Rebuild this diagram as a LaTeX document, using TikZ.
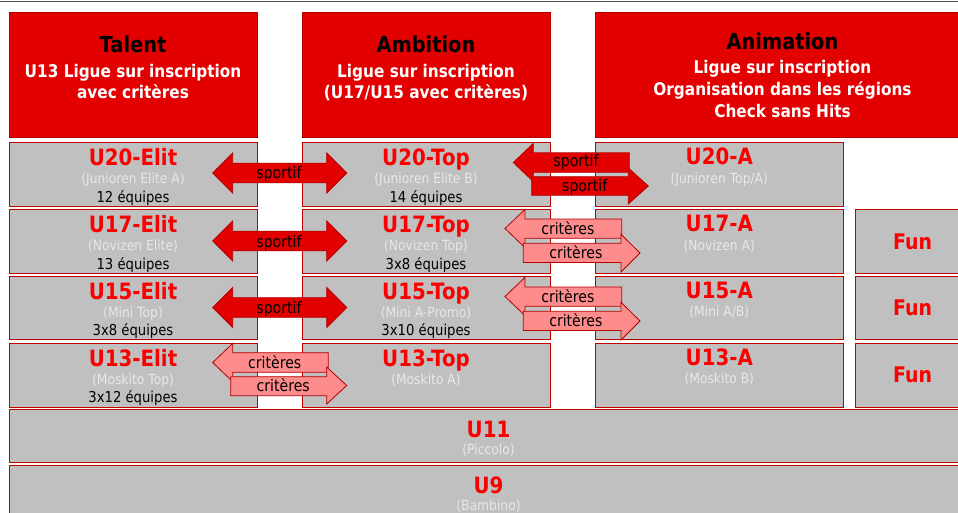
\documentclass[tikz,border=0pt]{standalone}
\usepackage{fontspec}
\setmainfont{DejaVu Sans}[FakeStretch=0.88]
\definecolor{hdrred}{RGB}{226,0,0}
\definecolor{hdrborder}{RGB}{176,0,0}
\definecolor{boxgray}{RGB}{192,192,192}
\definecolor{boxborder}{RGB}{190,0,0}
\definecolor{titlered}{RGB}{250,0,0}
\definecolor{subgray}{RGB}{232,232,232}
\definecolor{arrowred}{RGB}{226,0,0}
\definecolor{arrowpink}{RGB}{255,140,140}
\definecolor{arrowborder}{RGB}{180,0,0}
\definecolor{topline}{RGB}{80,80,80}
\tikzset{
  box/.style={draw=boxborder, fill=boxgray, line width=1pt},
  hdr/.style={draw=hdrborder, fill=hdrred, line width=0.8pt},
  ttl/.style={font=\bfseries\fontsize{22.5}{26}\selectfont, text=titlered, anchor=base, inner sep=0pt},
  funttl/.style={font=\bfseries\fontsize{21.5}{26}\selectfont, text=titlered, anchor=base, inner sep=0pt},
  subt/.style={font=\fontsize{14}{16}\selectfont, text=subgray, anchor=base, inner sep=0pt},
  cnt/.style={font=\fontsize{15}{18}\selectfont, text=black, anchor=base, inner sep=0pt},
  htitle/.style={font=\bfseries\fontsize{22}{26}\selectfont, text=black, anchor=base, inner sep=0pt},
  hline/.style={font=\bfseries\fontsize{17.4}{21}\selectfont, text=white, anchor=base, inner sep=0pt},
  lab/.style={font=\fontsize{16}{18}\selectfont, text=black, anchor=base, inner sep=0pt},
  redarrow/.style={fill=arrowred, draw=arrowborder, line width=0.8pt, line join=miter},
  pinkarrow/.style={fill=arrowpink, draw=arrowborder, line width=0.8pt, line join=miter}
}
\begin{document}
\begin{tikzpicture}[x=1pt,y=-1pt]
\useasboundingbox (0,0) rectangle (958,513);
\fill[white] (0,0) rectangle (958,513);
\draw[topline, line width=1pt] (0,1.5) -- (958,1.5);

% header boxes
\path[hdr] (9,12) rectangle (257,137);
\path[hdr] (302,12) rectangle (550,137);
\path[hdr] (595,12) rectangle (970,137);
\node[htitle] (tTalent) at (133,52.7) {Talent};
\node[hline] (tTal1) at (133,77.3) {U13 Ligue sur inscription};
\node[hline] (tTal2) at (133,98.3) {avec critères};
\node[htitle] (tAmb) at (426,52.7) {Ambition};
\node[hline] (tAmb1) at (426,77.3) {Ligue sur inscription};
\node[hline] (tAmb2) at (426,98.3) {(U17/U15 avec critères)};
\node[htitle] (tAni) at (782.5,50) {Animation};
\node[hline] (tAni1) at (782.5,74) {Ligue sur inscription};
\node[hline] (tAni2) at (782.5,95.8) {Organisation dans les régions};
\node[hline] (tAni3) at (782.5,117.3) {Check sans Hits};

% column boxes
\foreach \t/\b in {143/207, 210/273, 276/339.5, 343/407}{
  \path[box] (9,\t) rectangle (257,\b);
  \path[box] (302,\t) rectangle (550,\b);
  \path[box] (595,\t) rectangle (843.5,\b);
}
\foreach \t/\b in {210/273, 276/339.5, 343/407}{
  \path[box] (855,\t) rectangle (970,\b);
}
\path[box] (9,409) rectangle (968,462);
\path[box] (9,465) rectangle (968,530);

% column 1
\node[ttl] (e20) at (133,166) {U20-Elit};
\node[subt] (e20s) at (133,184) {(Junioren Elite A)};
\node[cnt] (e20c) at (133,202.7) {12 équipes};
\node[ttl] (e17) at (133,232.7) {U17-Elit};
\node[subt] (e17s) at (133,251) {(Novizen Elite)};
\node[cnt] (e17c) at (133,269.3) {13 équipes};
\node[ttl] (e15) at (133,299.2) {U15-Elit};
\node[subt] (e15s) at (133,317.5) {(Mini Top)};
\node[cnt] (e15c) at (133,335.8) {3x8 équipes};
\node[ttl] (e13) at (133,366) {U13-Elit};
\node[subt] (e13s) at (133,384.3) {(Moskito Top)};
\node[cnt] (e13c) at (133,402.6) {3x12 équipes};

% column 2
\node[ttl] (t20) at (426,166) {U20-Top};
\node[subt] (t20s) at (426,184) {(Junioren Elite B)};
\node[cnt] (t20c) at (426,202.7) {14 équipes};
\node[ttl] (t17) at (426,232.7) {U17-Top};
\node[subt] (t17s) at (426,251) {(Novizen Top)};
\node[cnt] (t17c) at (426,269.3) {3x8 équipes};
\node[ttl] (t15) at (426,299.2) {U15-Top};
\node[subt] (t15s) at (426,317.5) {(Mini A-Promo)};
\node[cnt] (t15c) at (426,335.8) {3x10 équipes};
\node[ttl] (t13) at (426,366) {U13-Top};
\node[subt] (t13s) at (426,384.3) {(Moskito A)};

% column 3
\node[ttl] (a20) at (719.3,165) {U20-A};
\node[subt] (a20s) at (719.3,183.3) {(Junioren Top/A)};
\node[ttl] (a17) at (719.3,232) {U17-A};
\node[subt] (a17s) at (719.3,250.3) {(Novizen A)};
\node[ttl] (a15) at (719.3,298.5) {U15-A};
\node[subt] (a15s) at (719.3,316.8) {(Mini A/B)};
\node[ttl] (a13) at (719.3,365.3) {U13-A};
\node[subt] (a13s) at (719.3,383.6) {(Moskito B)};

% fun
\node[funttl] (f17) at (912.5,249.3) {Fun};
\node[funttl] (f15) at (912.5,315.8) {Fun};
\node[funttl] (f13) at (912.5,382.6) {Fun};

% bottom rows
\node[ttl] (u11) at (488.5,437.3) {U11};
\node[subt] (u11s) at (488.5,454.5) {(Piccolo)};
\node[ttl] (u9) at (488.5,493.3) {U9};
\node[subt] (u9s) at (488.5,510.5) {(Bambino)};

% double red arrows col1-col2
\foreach \c/\n in {173/da1, 241/da2, 307.5/da3}{
  \path[redarrow] (212.7,\c) -- (232.7,\c-20) -- (232.7,\c-9.8) -- (326.7,\c-9.8) -- (326.7,\c-20)
    -- (346.7,\c) -- (326.7,\c+20) -- (326.7,\c+9.8) -- (232.7,\c+9.8) -- (232.7,\c+20) -- cycle;
  \node[lab] (\n) at (279,\c+6) {sportif};
}

% row1 col2-col3 red single arrows
\path[redarrow] (513.3,162.5) -- (533.3,143.5) -- (533.3,152.8) -- (629.3,152.8) -- (629.3,172.3)
  -- (533.3,172.3) -- (533.3,181.5) -- cycle;
\path[redarrow] (531.7,176.7) -- (628.3,176.7) -- (628.3,168) -- (648.3,186) -- (628.3,204)
  -- (628.3,195.3) -- (531.7,195.3) -- cycle;
\node[lab] (sa1) at (576,166.8) {sportif};
\node[lab] (sa2) at (584.7,191.7) {sportif};

% pink arrows col2-col3 rows 2 and 3
\foreach \d/\m in {0/1, 68/2}{
  \path[pinkarrow] (505,228.5+\d) -- (525,209.3+\d) -- (525,219+\d) -- (621.7,219+\d) -- (621.7,238.3+\d)
    -- (525,238.3+\d) -- (525,247.7+\d) -- cycle;
  \path[pinkarrow] (523.3,243.3+\d) -- (621,243.3+\d) -- (621,234.3+\d) -- (640,253+\d) -- (621,272+\d)
    -- (621,262.5+\d) -- (523.3,262.5+\d) -- cycle;
  \node[lab] (ca\m) at (567.8,234.3+\d) {critères};
  \node[lab] (cb\m) at (575.8,258.5+\d) {critères};
}

% pink arrows col1-col2 row 4
\path[pinkarrow] (212.7,362.5) -- (232.7,343.3) -- (232.7,352.7) -- (328.3,352.7) -- (328.3,372.3)
  -- (232.7,372.3) -- (232.7,381.7) -- cycle;
\path[pinkarrow] (230.7,376.7) -- (326.7,376.7) -- (326.7,367) -- (346.7,385.5) -- (326.7,404)
  -- (326.7,395.7) -- (230.7,395.7) -- cycle;
\node[lab] (cc1) at (274.7,368.3) {critères};
\node[lab] (cc2) at (283.2,391.7) {critères};
\end{tikzpicture}
\end{document}
